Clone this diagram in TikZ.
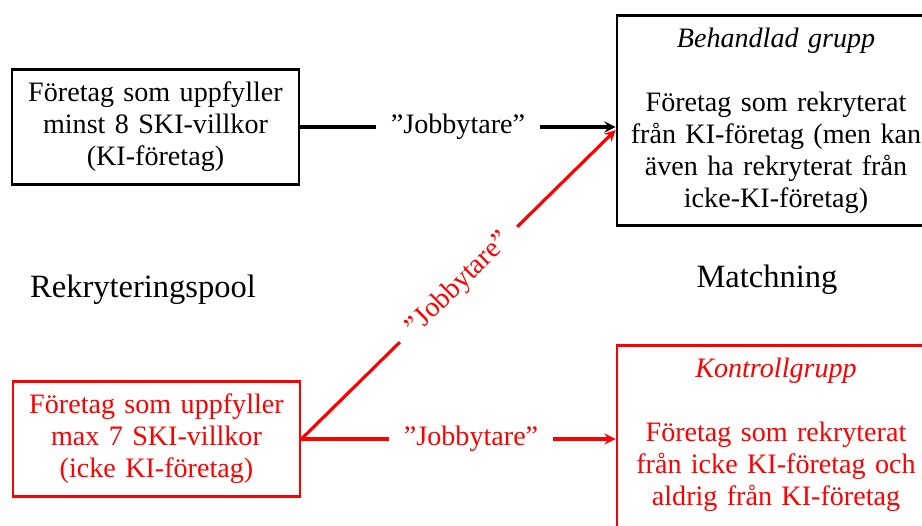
\documentclass[tikz,border=0pt]{standalone}
\usepackage{fontspec}
\setmainfont{Liberation Serif}
\usetikzlibrary{arrows, calc}
\tikzstyle{arrow} = [line width=1.8pt,->,>=stealth]
\tikzstyle{box} = [draw, line width=1.6pt, align=center, inner xsep=0pt, inner ysep=0.25cm]
\tikzstyle{lbl} = [fill=white, inner xsep=0.3cm]
\tikzstyle{title} = [font=\fontsize{18.5}{22}\selectfont]

\begin{document}
\begin{tikzpicture}[x=0.02cm, y=-0.02cm, every node/.style={font=\fontsize{16}{18.2}\selectfont}]
        \useasboundingbox (0,0) rectangle (922,525);

        \node at (155.5,127) [box, text width=5.74cm](ki) {Företag som uppfyller\\ minst 8 SKI-villkor\\ (KI-företag)};
        \node at (156.5,439) [box, red, text width=5.74cm](ickeki) {Företag som uppfyller\\ max 7 SKI-villkor\\ (icke KI-företag)};
        \node at (776,14) [box, anchor=north, text width=6.36cm](behandlad) {\textit{Behandlad grupp}\\[18.2pt] Företag som rekryterat\\ från KI-företag (men kan\\ även ha rekryterat från\\ icke-KI-företag)};
        \node at (776,344) [box, red, anchor=north, text width=6.36cm](kontroll) {\textit{Kontrollgrupp}\\[18.2pt] Företag som rekryterat\\ från icke KI-företag och\\ aldrig från KI-företag\\ \strut};

        \node at (143,290) [title](pool) {Rekryteringspool};
        \node at (767,280) [title](matchning) {Matchning};

        \draw [arrow] (ki.east) -- node[lbl]{”Jobbytare”} (ki.east -| behandlad.west);
        \draw [arrow, red] (ickeki.east) -- node[lbl, pos=0.54]{”Jobbytare”} (ickeki.east -| kontroll.west);
        \draw [arrow, red] (ickeki.east) -- node[lbl, midway, sloped]{”Jobbytare”} ($(ki.east -| behandlad.west)+(0,3)$);

    \end{tikzpicture}
\end{document}
